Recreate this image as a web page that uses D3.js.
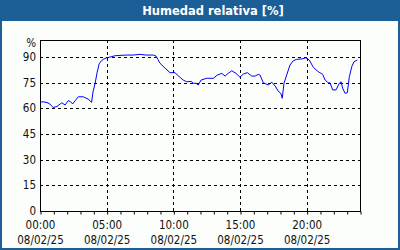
<!DOCTYPE html>
<html>
<head>
<meta charset="utf-8">
<script src="https://cdn.jsdelivr.net/npm/d3@7"></script>
<style>
html,body{margin:0;padding:0;background:#fff;}
svg{display:block;}
</style>
</head>
<body>
<svg id="c" width="400" height="250"></svg>
<script>
const title = "Humedad relativa [%]";
const unitLabel = "%";
const dateLabel = "08/02/25";
const times = ["00:00","00:18","00:36","00:45","00:59","01:17","01:38","01:53","02:07","02:17","02:27","02:38","02:52","03:15","03:27","03:37","03:48","03:52","03:59","04:08","04:17","04:26","04:36","04:45","05:00","05:15","05:38","06:00","06:30","06:59","07:30","07:57","08:30","08:42","08:51","09:00","09:23","09:45","10:08","10:18","10:30","10:44","11:00","11:20","11:30","11:42","11:52","12:05","12:30","13:00","13:18","13:38","13:53","14:07","14:23","14:42","15:00","15:15","15:33","15:53","16:08","16:22","16:30","16:45","17:07","17:23","17:38","17:52","18:05","18:10","18:18","18:30","18:45","19:00","19:15","19:38","19:57","20:12","20:30","20:52","21:12","21:23","21:37","21:45","21:57","22:12","22:27","22:35","22:42","22:53","23:03","23:12","23:23","23:33","23:48"];
const humidity = [63.8,63.8,63.2,62.5,60.5,61.2,63.3,62.0,64.5,64.0,62.6,64.5,66.8,66.8,66.0,65.5,64.0,63.5,70.0,74.7,81.0,86.0,87.8,88.7,89.6,90.0,90.8,91.0,91.2,91.2,91.6,91.2,91.2,90.6,88.5,86.4,83.5,80.9,80.9,79.5,78.2,76.6,75.6,75.8,74.7,74.7,73.7,76.6,77.6,77.6,79.5,80.5,78.9,80.5,82.0,80.5,78.2,80.1,80.9,78.9,78.9,79.9,79.5,75.0,73.7,75.3,73.1,70.2,68.4,65.9,74.7,79.5,85.4,87.9,88.7,88.9,89.6,88.3,84.0,81.5,79.9,76.6,75.0,75.0,70.8,70.8,74.7,75.6,71.8,68.8,69.2,78.5,84.4,87.3,88.3];
const yTicks = [0,15,30,45,60,75,90];
const xMajorHours = [0,5,10,15,20];
const xLabels = ["00:00","05:00","10:00","15:00","20:00"];

const toH = t => { const [h,m] = t.split(":").map(Number); return h + m/60; };
const data = times.map((t,i)=>({h:toH(t), v:humidity[i]}));

const svg = d3.select("#c");
const W = 400, H = 250;
const m = {l:40, r:360, t:40, b:211};
const x = d3.scaleLinear().domain([0,24]).range([m.l, m.r]);
const y = d3.scaleLinear().domain([0,100]).range([m.b, m.t]);

const blue = "#1c5e96";
svg.append("rect").attr("x",0).attr("y",0).attr("width",W).attr("height",H).attr("fill","#fbfefb");
svg.append("rect").attr("x",0).attr("y",0).attr("width",W).attr("height",21).attr("fill",blue);
svg.append("rect").attr("x",1).attr("y",1).attr("width",W-2).attr("height",H-2)
  .attr("fill","none").attr("stroke",blue).attr("stroke-width",2);

svg.append("text").attr("x",213).attr("y",15).attr("text-anchor","middle")
  .attr("fill","#fff").attr("font-family","DejaVu Sans").attr("font-weight","bold")
  .attr("font-size",11.5).text(title);

const font = "DejaVu Sans Condensed";
const fs = 11.5;
// grid
const g = svg.append("g");
g.selectAll("line.hg").data(yTicks.filter(d=>d>0)).join("line")
  .attr("x1",m.l).attr("x2",m.r).attr("y1",d=>Math.round(y(d))+0.5).attr("y2",d=>Math.round(y(d))+0.5)
  .attr("stroke","#000").attr("stroke-dasharray","3,3");
g.selectAll("line.vg").data(xMajorHours.filter(d=>d>0)).join("line")
  .attr("y1",m.t).attr("y2",m.b).attr("x1",d=>Math.round(x(d))+0.5).attr("x2",d=>Math.round(x(d))+0.5)
  .attr("stroke","#000").attr("stroke-dasharray","3,3");

// x axis with hourly ticks
const xAxis = d3.axisBottom(x).tickValues(d3.range(0,25,1)).tickSize(3).tickFormat("");
const ax = svg.append("g").attr("transform",`translate(0.5,${m.b+0.5})`).call(xAxis);
ax.select(".domain").remove();
ax.selectAll("line").attr("stroke","#000");

// frame
svg.append("rect").attr("x",m.l+0.5).attr("y",m.t+0.5).attr("width",m.r-m.l).attr("height",m.b-m.t)
  .attr("fill","none").attr("stroke","#000").attr("stroke-width",1);

// y labels
svg.append("g").selectAll("text").data(yTicks).join("text")
  .attr("x",36).attr("y",d=>y(d)+4).attr("text-anchor","end")
  .attr("font-family",font).attr("font-size",fs).attr("fill","#111").text(d=>d);
svg.append("text").attr("x",36).attr("y",47).attr("text-anchor","end")
  .attr("font-family",font).attr("font-size",fs).attr("fill","#111").text(unitLabel);

// x labels
const xl = svg.append("g").selectAll("g").data(xMajorHours).join("g");
xl.append("text").attr("x",d=>x(d)+0.5).attr("y",229).attr("text-anchor","middle")
  .attr("font-family",font).attr("font-size",fs).attr("fill","#111").text((d,i)=>xLabels[i]);
xl.append("text").attr("x",d=>x(d)+0.5).attr("y",243.5).attr("text-anchor","middle")
  .attr("font-family",font).attr("font-size",fs).attr("fill","#111").text(dateLabel);

// line
const line = d3.line().x(d=>x(d.h)).y(d=>y(d.v));
svg.append("path").datum(data).attr("d",line).attr("fill","none")
  .attr("stroke","#0000ff").attr("stroke-width",1);
</script>
</body>
</html>
